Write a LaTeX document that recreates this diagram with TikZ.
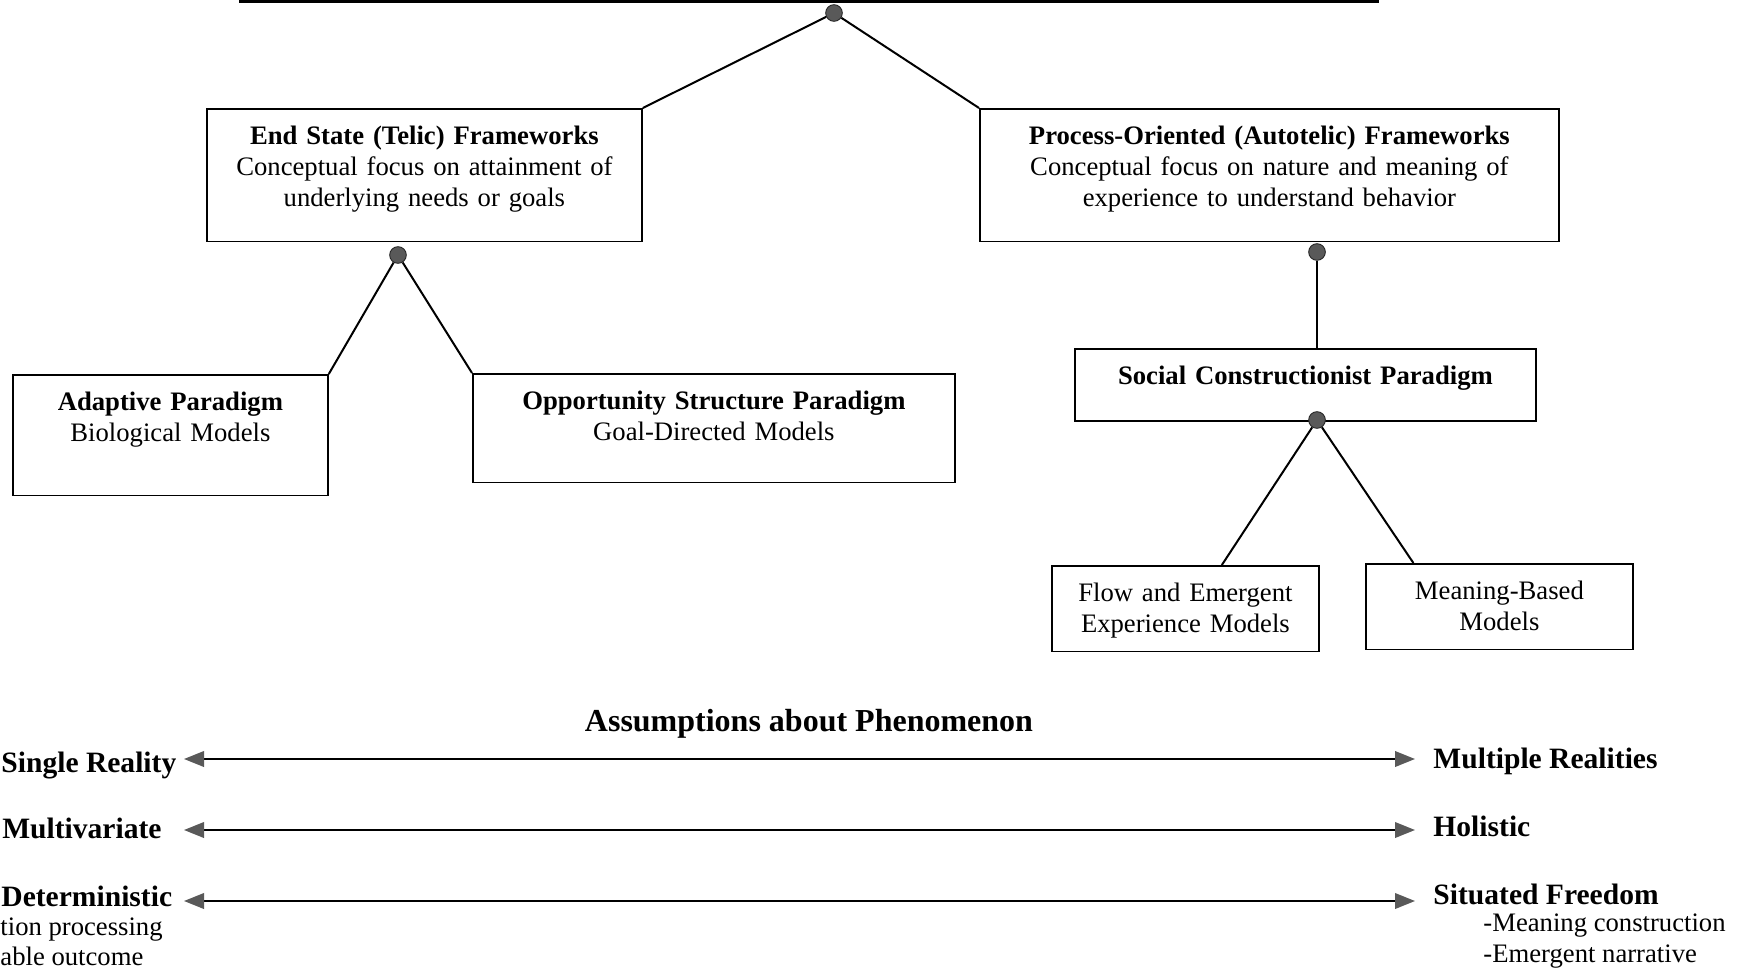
\documentclass[tikz,border=0pt]{standalone}
\usepackage{fontspec}
\setmainfont{Liberation Serif}
\usetikzlibrary{arrows.meta}

\tikzstyle{box}=[draw,line width=0.8pt,anchor=north west,align=center,inner xsep=4pt,inner ysep=0pt,text height=16pt]
\tikzstyle{dot}=[circle,fill=black!65,draw=black!85,inner sep=0pt,minimum size=7.5pt]
\tikzstyle{link}=[line width=0.9pt]
\tikzstyle{dar}=[line width=0.9pt,{Triangle[length=9pt,width=7pt,color=black!65]}-{Triangle[length=9pt,width=7pt,color=black!65]}]
\tikzstyle{big}=[font=\fontsize{13.3}{16}\selectfont\bfseries,inner sep=0pt]
\tikzstyle{small}=[font=\fontsize{12}{14}\selectfont,inner sep=0pt]

\begin{document}
\begin{tikzpicture}[x=0.45pt,y=-0.45pt,font=\fontsize{12}{14}\selectfont]
\useasboundingbox (0,0) rectangle (1744,973);
\clip (0,0) rectangle (1744,973);

\coordinate (topl) at (239,1.5);
\coordinate (topr) at (1379,1.5);
\draw[line width=1pt] (topl) -- (topr);

\node[box,text width=187.75pt,text depth=43.65pt] (es) at (206,108) {\textbf{End State (Telic) Frameworks}\\Conceptual focus on attainment of\\underlying needs or goals};
\node[box,text width=252.55pt,text depth=43.65pt] (po) at (979,108) {\textbf{Process-Oriented (Autotelic) Frameworks}\\Conceptual focus on nature and meaning of\\experience to understand behavior};
\node[box,text width=133.75pt,text depth=38.25pt] (ap) at (12,374) {\textbf{Adaptive Paradigm}\\Biological Models};
\node[box,text width=208.9pt,text depth=32.85pt] (os) at (472,373) {\textbf{Opportunity Structure Paradigm}\\Goal-Directed Models};
\node[box,text width=199.45pt,text depth=16.4pt] (sc) at (1074,348) {\textbf{Social Constructionist Paradigm}};
\node[box,text width=112.15pt,text depth=22.5pt] (fe) at (1051,565) {Flow and Emergent\\Experience Models};
\node[box,text width=112.15pt,text depth=22.5pt] (mb) at (1365,563) {Meaning-Based\\Models};

\node[dot] (d0) at (834,13) {};
\node[dot] (d1) at (398,255) {};
\node[dot] (d2) at (1317,252) {};
\node[dot] (d3) at (1317,420) {};

\draw[link] (d0) -- (es.north east);
\draw[link] (d0) -- (po.north west);
\draw[link] (d1) -- (ap.north east);
\draw[link] (d1) -- (os.north west);
\draw[link] (d2) -- (d2 |- sc.north);
\draw[link] (d3) -- ([xshift=16.4pt]fe.north);
\draw[link] (d3) -- ([xshift=-38.7pt]mb.north);

\node[big,font=\fontsize{14.4}{17}\selectfont\bfseries,anchor=base] (ttl) at (809,731) {Assumptions about Phenomenon};

\node[big,anchor=base west] (sr) at (1,772) {Single Reality};
\node[big,anchor=base east] (mv) at (162,838) {Multivariate};
\node[big,anchor=base west] (de) at (1,906) {Deterministic};
\node[small,anchor=base west] (ip) at (0,935) {tion processing};
\node[small,anchor=base west] (pr) at (0,965) {able outcome};

\node[big,anchor=base west] (mr) at (1433,768) {Multiple Realities};
\node[big,anchor=base west] (ho) at (1433,836) {Holistic};
\node[big,anchor=base west] (sf) at (1433,904) {Situated Freedom};
\node[small,anchor=base west] (mc) at (1483,931) {-Meaning construction};
\node[small,anchor=base west] (en) at (1483,962) {-Emergent narrative};

\coordinate (r1l) at (184,759);
\coordinate (r1r) at (1415,759);
\coordinate (r2l) at (184,830);
\coordinate (r2r) at (1415,830);
\coordinate (r3l) at (184,901);
\coordinate (r3r) at (1415,901);
\draw[dar] (r1l) -- (r1r);
\draw[dar] (r2l) -- (r2r);
\draw[dar] (r3l) -- (r3r);
\end{tikzpicture}
\end{document}
